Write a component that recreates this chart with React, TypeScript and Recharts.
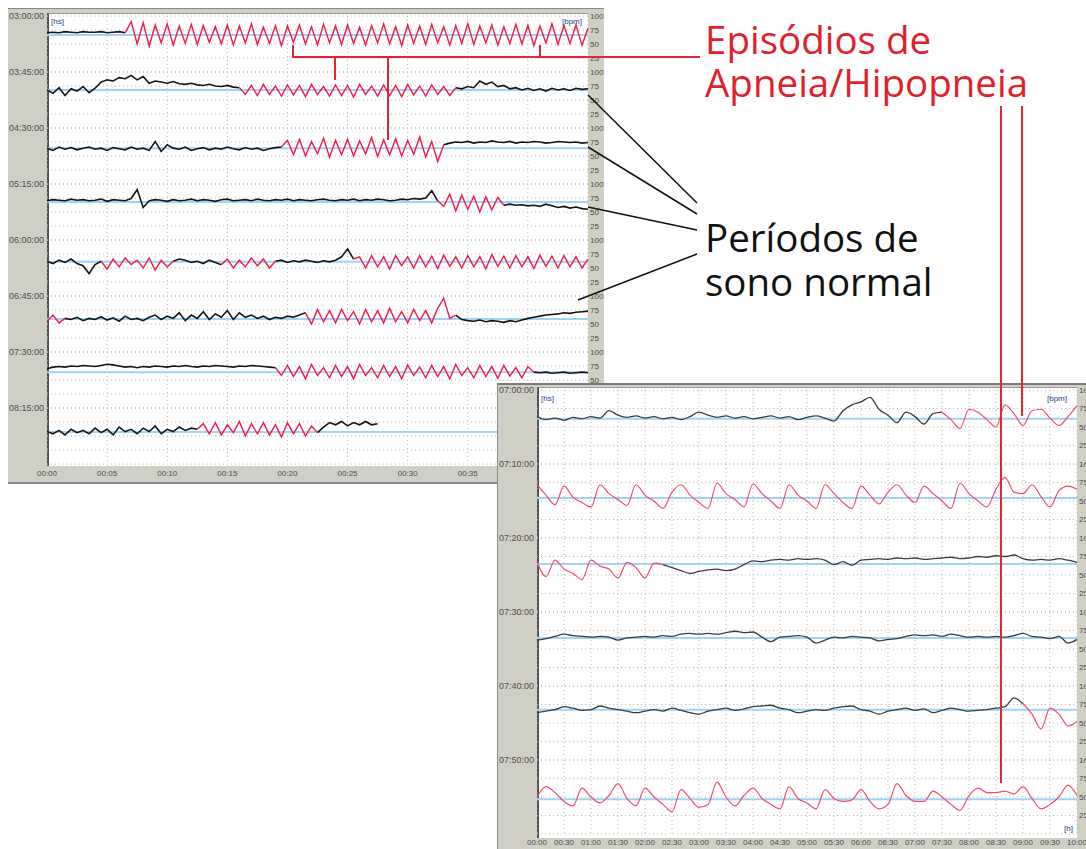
import { LineChart, Line, XAxis, YAxis, CartesianGrid, ReferenceLine } from "recharts";

type Seg = [number, number];

// noite inteira: faixas de 45 min, um valor a cada 30 s (bpm)
const nightRowLabels = ["03:00:00", "03:45:00", "04:30:00", "05:15:00", "06:00:00", "06:45:00", "07:30:00", "08:15:00"];
const nightTicks = [0, 5, 10, 15, 20, 25, 30, 35, 40, 45];
const nightTickLabels = ["00:00", "00:05", "00:10", "00:15", "00:20", "00:25", "00:30", "00:35", "00:40", "00:45"];
const nightMeans = [66, 68, 64, 68, 61, 59, 64, 57];
// trechos em vermelho (min)
const nightApnea: Seg[][] = [
  [[6.5, 45]],
  [[16, 34]],
  [[19.5, 33]],
  [[32.5, 38]],
  [[4.5, 10.5], [14.5, 19], [25.5, 45]],
  [[0, 1.5], [21.5, 34]],
  [[19, 40.5]],
  [[12.5, 22.5]],
];

const hr0300 = [
  70, 71, 70, 72, 71, 70, 72, 71, 71, 72, 70, 71, 72, 70,
  90, 50, 88, 46, 84, 52, 86, 48, 82, 51,
  85, 49, 83, 53, 81, 50, 84, 48, 82, 52,
  86, 49, 80, 51, 83, 47, 82, 53, 84, 50,
  81, 48, 85, 52, 82, 49, 84, 51, 80, 48,
  83, 52, 86, 50, 81, 47, 84, 51, 82, 49,
  85, 52, 81, 48, 83, 51, 86, 49, 82, 52,
  84, 48, 81, 51, 85, 50, 83, 47, 82, 52,
  86, 49, 83, 51, 84, 48, 78,
];
const hr0345 = [
  68, 62, 72, 58, 70, 66, 74, 63, 71, 82,
  86, 84, 90, 88, 94, 86, 92, 80, 84, 82,
  80, 83, 79, 78, 80, 77, 76, 78, 75, 74,
  76, 73, 72,
  60, 76, 58, 78, 60, 75, 57, 77, 59, 76,
  56, 78, 60, 74, 57, 77, 58, 76, 55, 78,
  60, 75, 57, 77, 58, 76, 56, 78, 59, 75,
  57, 77, 60, 74, 58, 72,
  70, 74, 72, 84, 78, 82, 74, 76, 70, 72,
  68, 71, 67, 70, 66, 71, 68, 70, 67, 71,
  69, 70,
];
const hr0430 = [
  64, 60, 66, 62, 65, 61, 64, 66, 62, 64,
  60, 65, 63, 61, 66, 62, 64, 60, 76, 58,
  70, 64, 62, 66, 60, 63, 65, 61, 64, 62,
  66, 63, 61, 65, 62, 64, 60, 63, 65, 66,
  78, 52, 80, 50, 76, 54, 82, 48, 78, 52,
  80, 50, 77, 54, 83, 49, 79, 52, 81, 50,
  78, 53, 84, 48, 76, 40, 70,
  73, 75, 74, 76, 73, 75, 74, 77, 75, 74,
  76, 73, 75, 74, 76, 75, 73, 74, 76, 75,
  74, 75, 73, 74,
];
const hr0515 = [
  70, 72, 71, 70, 73, 71, 72, 70, 71, 73,
  69, 72, 71, 70, 74, 90, 58, 70, 72, 71,
  69, 72, 70, 71, 73, 70, 72, 71, 69, 72,
  73, 70, 71, 72, 70, 73, 71, 70, 72, 71,
  73, 70, 72, 71, 70, 72, 73, 71, 70, 72,
  71, 73, 70, 72, 71, 73, 72, 70, 71, 73,
  72, 74, 73, 75, 88, 70,
  60, 82, 52, 80, 55, 78, 50, 77, 54, 76, 62,
  64, 62, 63, 61, 62, 60, 64, 61, 58, 60, 57, 59, 56, 55,
];
const hr0600 = [
  62, 58, 64, 60, 66, 58, 54, 40, 56, 62,
  48, 66, 52, 68, 56, 64, 50, 68, 46, 64, 52, 62,
  66, 64, 60, 62, 58, 64, 60, 56,
  66, 50, 64, 52, 68, 54, 66, 50, 62,
  64, 60, 63, 61, 64, 62, 60, 63, 61, 64, 70, 84, 66,
  70, 50, 72, 52, 70, 48, 72, 54, 70, 50,
  72, 52, 71, 49, 73, 53, 70, 50, 72, 52,
  70, 48, 74, 53, 71, 50, 72, 52, 70, 49,
  73, 53, 71, 50, 72, 52, 70, 50, 66,
];
const hr0645 = [
  55, 66, 52, 60,
  58, 62, 56, 60, 58, 63, 57, 61, 55, 64,
  58, 60, 56, 62, 66, 58, 64, 60, 70, 56,
  66, 60, 72, 58, 68, 62, 74, 58, 70, 62,
  66, 60, 64, 58, 62, 60, 64, 62, 66, 70,
  50, 76, 54, 74, 52, 76, 56, 72, 50, 76,
  54, 74, 52, 78, 54, 72, 52, 76, 56, 74,
  52, 78, 96, 60, 66,
  58, 56, 55, 57, 54, 56, 55, 53, 56, 54,
  57, 60, 62, 64, 66, 67, 68, 70, 69, 71,
  72, 73,
];
const hr0730 = [
  70, 73, 74, 73, 75, 74, 76, 75, 74, 76,
  78, 77, 75, 73, 74, 72, 74, 73, 75, 74,
  73, 75, 74, 76, 74, 73, 75, 74, 76, 75,
  74, 73, 75, 74, 76, 75, 74, 73, 72,
  58, 76, 56, 74, 52, 78, 58, 72, 54, 76,
  56, 74, 52, 78, 58, 72, 54, 76, 56, 74,
  52, 77, 58, 73, 54, 76, 56, 74, 52, 78,
  58, 72, 54, 76, 56, 74, 53, 76, 57, 72,
  54, 74, 64,
  63, 64, 62, 63, 64, 62, 63, 64, 63,
];
const hr0815 = [
  58, 54, 60, 52, 62, 56, 60, 54, 64, 56,
  62, 52, 66, 58, 62, 54, 64, 58, 68, 54,
  62, 58, 66, 60, 64, 62,
  72, 54, 74, 52, 70, 56, 76, 50, 72, 54,
  74, 52, 70, 48, 74, 54, 72, 50, 68, 56,
  66, 74, 70, 76, 68, 74, 70, 76, 70, 72,
];
const nightSeries = [hr0300, hr0345, hr0430, hr0515, hr0600, hr0645, hr0730, hr0815];

// detalhe 07:00-08:00: faixas de 10 min, um valor a cada 10 s
const zoomRowLabels = ["07:00:00", "07:10:00", "07:20:00", "07:30:00", "07:40:00", "07:50:00"];
const zoomTicks = [0, 30, 60, 90, 120, 150, 180, 210, 240, 270, 300, 330, 360, 390, 420, 450, 480, 510, 540, 570, 600];
const zoomTickLabels = [
  "00:00", "00:30", "01:00", "01:30", "02:00", "02:30", "03:00", "03:30", "04:00", "04:30", "05:00",
  "05:30", "06:00", "06:30", "07:00", "07:30", "08:00", "08:30", "09:00", "09:30", "10:00",
];
const zoomMeans = [61, 54, 65, 65, 68, 47];
// trechos em vermelho (s)
const zoomApnea: Seg[][] = [[[450, 600]], [[0, 600]], [[0, 140]], [], [[540, 600]], [[0, 600]]];

const hr0700 = [
  64, 60, 62, 59, 63, 61, 64, 62, 72, 66,
  63, 65, 62, 64, 61, 63, 60, 64, 70, 66,
  63, 65, 62, 64, 61, 63, 65, 62, 64, 60,
  63, 65, 62, 58, 72, 80, 84, 90, 74, 66,
  56, 70, 64, 54, 68, 70,
  60, 48, 74, 70, 60, 50, 80, 68, 52, 72, 74, 62, 52, 64, 79,
];
const hr0710 = [
  72, 58, 45, 70, 55, 48, 42, 72, 60, 52,
  44, 72, 58, 50, 40, 62, 72, 58, 48, 40,
  74, 60, 52, 42, 73, 60, 50, 40, 72, 58,
  50, 40, 72, 60, 48, 40, 70, 58, 46, 62,
  72, 58, 48, 70, 60, 50, 40, 74, 60, 50,
  42, 66, 82, 62, 60, 72, 56, 42, 64, 70,
  66,
];
const hr0720 = [
  68, 48, 70, 58, 52, 44, 70, 62, 58, 46, 67, 60, 46, 66, 64,
  60, 56, 52, 55, 57, 58, 56, 58, 64, 69,
  68, 70, 71, 70, 72, 71, 72, 70, 64, 68,
  63, 70, 71, 72, 71, 73, 72, 73, 71, 72,
  73, 74, 72, 73, 75, 74, 76, 75, 77, 72,
  70, 71, 70, 72, 70, 67,
];
const hr0730b = [
  62, 64, 67, 70, 68, 67, 66, 67, 66, 62,
  65, 66, 67, 66, 68, 67, 70, 71, 70, 71,
  70, 72, 74, 72, 73, 66, 60, 66, 67, 68,
  66, 58, 62, 66, 65, 67, 66, 65, 61, 63,
  64, 67, 69, 68, 69, 67, 70, 68, 66, 67,
  66, 67, 66, 68, 71, 67, 66, 64, 67, 58,
  63,
];
const hr0740 = [
  64, 66, 68, 72, 70, 67, 68, 73, 70, 68,
  66, 64, 66, 68, 66, 70, 67, 64, 62, 66,
  68, 70, 67, 69, 72, 73, 74, 70, 68, 64,
  66, 68, 67, 70, 72, 73, 68, 66, 62, 66,
  68, 70, 67, 69, 64, 67, 70, 68, 66, 67,
  68, 70, 72, 84, 76,
  62, 42, 70, 62, 46, 52,
];
const hr0750 = [
  50, 64, 56, 44, 38, 62, 50, 42, 52, 68,
  48, 38, 62, 50, 40, 30, 60, 48, 36, 40,
  70, 50, 38, 52, 62, 48, 40, 34, 64, 48,
  42, 34, 60, 48, 44, 46, 60, 44, 34, 40,
  68, 52, 44, 44, 58, 50, 40, 32, 52, 62,
  56, 56, 58, 54, 64, 48, 34, 40, 50, 66,
  52,
];
const zoomSeries = [hr0700, hr0710, hr0720, hr0730b, hr0740, hr0750];

const PANEL_GRAY = "#cfcfc3";
const AXIS_TEXT = "#4d4d4d";
const MEAN_BLUE = "#9fd3f7";

function splitSeries(values: number[], step: number, apnea: Seg[]) {
  return values.map((v, i) => {
    const t = i * step;
    const red = apnea.some(([a, b]) => t >= a && t <= b);
    const inside = apnea.some(([a, b]) => t > a && t < b);
    return { t, hr: v, black: inside ? null : v, red: red ? v : null };
  });
}

interface StripProps {
  values: number[];
  step: number;
  apnea: Seg[];
  mean: number;
  label: string;
  left: number;
  top: number;
  leftW: number;
  plotW: number;
  rightW: number;
  rowH: number;
  xMax: number;
  ticks: number[];
  tickLabels: string[];
  showX: boolean;
  tickGap: number;
  blackColor: string;
  redColor: string;
  lineW: number;
  curve: "linear" | "monotone";
}

function Strip(p: StripProps) {
  const data = splitSeries(p.values, p.step, p.apnea);
  const pad = 8;
  const axisH = p.showX ? 16 : 0;
  return (
    <div style={{ position: "absolute", left: p.left, top: p.top - pad }}>
      <LineChart
        width={p.leftW + p.plotW + p.rightW}
        height={p.rowH + pad * 2 + axisH}
        data={data}
        margin={{ top: pad, right: 0, bottom: pad, left: 0 }}
      >
        <CartesianGrid yAxisId="r" strokeDasharray="1 3" stroke="#b8b8b8" />
        <XAxis
          dataKey="t"
          type="number"
          domain={[0, p.xMax]}
          ticks={p.ticks}
          interval={0}
          hide={!p.showX}
          height={axisH}
          tickLine={false}
          axisLine={false}
          tickSize={0}
          tickMargin={p.tickGap}
          tickFormatter={(_v: number, i: number) => p.tickLabels[i]}
          tick={{ fontSize: 8, fill: AXIS_TEXT }}
        />
        <YAxis
          yAxisId="l"
          dataKey="hr"
          domain={[0, 100]}
          allowDataOverflow
          ticks={[100]}
          interval={0}
          width={p.leftW}
          tickLine={false}
          axisLine={false}
          tickSize={0}
          tickMargin={3}
          tickFormatter={() => p.label}
          tick={{ fontSize: 9, fill: AXIS_TEXT }}
        />
        <YAxis
          yAxisId="r"
          orientation="right"
          domain={[0, 100]}
          allowDataOverflow
          ticks={[25, 50, 75, 100]}
          interval={0}
          width={p.rightW}
          tickLine={false}
          axisLine={false}
          tickSize={0}
          tickMargin={2}
          tick={{ fontSize: 8, fill: AXIS_TEXT }}
        />
        <ReferenceLine yAxisId="r" y={p.mean} stroke={MEAN_BLUE} strokeWidth={2} />
        {/* linha invisível só para o eixo dos horários */}
        <Line yAxisId="l" dataKey="hr" stroke="none" dot={false} activeDot={false} isAnimationActive={false} />
        <Line
          yAxisId="r"
          type={p.curve}
          dataKey="black"
          stroke={p.blackColor}
          strokeWidth={p.lineW}
          dot={false}
          isAnimationActive={false}
        />
        <Line
          yAxisId="r"
          type={p.curve}
          dataKey="red"
          stroke={p.redColor}
          strokeWidth={p.lineW * 0.9}
          dot={false}
          isAnimationActive={false}
        />
      </LineChart>
    </div>
  );
}

const tag: React.CSSProperties = {
  position: "absolute",
  fontSize: 8,
  color: "#23408c",
  lineHeight: "9px",
};

export default function App() {
  const nightRowH = 56;
  const nightTop = 16;
  const zoomRowH = 74;
  const zoomTop = 390;
  return (
    <div
      style={{
        position: "absolute",
        left: 0,
        top: 0,
        width: 1086,
        height: 849,
        overflow: "hidden",
        background: "#ffffff",
        fontFamily: "'Liberation Sans', Arial, sans-serif",
      }}
    >
      {/* painel da noite */}
      <div
        style={{
          position: "absolute",
          left: 8,
          top: 8,
          width: 596,
          height: 476,
          background: PANEL_GRAY,
          borderTop: "1px solid #8a8a8a",
          borderBottom: "2px solid #8a8a8a",
          boxSizing: "border-box",
        }}
      />
      <div
        style={{
          position: "absolute",
          left: 47,
          top: 13,
          width: 541,
          height: 453,
          background: "#fff",
          borderLeft: "2px solid #505050",
          borderTop: "1px solid #9a9a9a",
          boxSizing: "border-box",
        }}
      />
      {nightSeries.map((vals, i) => (
        <Strip
          key={nightRowLabels[i]}
          values={vals}
          step={0.5}
          apnea={nightApnea[i]}
          mean={nightMeans[i]}
          label={nightRowLabels[i]}
          left={8}
          top={nightTop + i * nightRowH}
          leftW={39}
          plotW={541}
          rightW={16}
          rowH={nightRowH}
          xMax={45}
          ticks={nightTicks}
          tickLabels={nightTickLabels}
          showX={i === nightSeries.length - 1}
          tickGap={6}
          blackColor="#151515"
          redColor="#ee1f4a"
          lineW={1.6}
          curve="linear"
        />
      ))}
      <div style={{ ...tag, left: 51, top: 17 }}>[hs]</div>
      <div style={{ ...tag, left: 562, top: 17 }}>[bpm]</div>

      {/* painel de detalhe */}
      <div
        style={{
          position: "absolute",
          left: 497,
          top: 383,
          width: 589,
          height: 466,
          background: PANEL_GRAY,
          borderTop: "2px solid #7a7a7a",
          borderLeft: "1px solid #8a8a8a",
          boxSizing: "border-box",
        }}
      />
      <div
        style={{
          position: "absolute",
          left: 537,
          top: 387,
          width: 540,
          height: 451,
          background: "#fff",
          borderLeft: "2px solid #505050",
          borderTop: "1px solid #9a9a9a",
          boxSizing: "border-box",
        }}
      />
      {zoomSeries.map((vals, i) => (
        <Strip
          key={zoomRowLabels[i]}
          values={vals}
          step={10}
          apnea={zoomApnea[i]}
          mean={zoomMeans[i]}
          label={zoomRowLabels[i]}
          left={497}
          top={zoomTop + i * zoomRowH}
          leftW={40}
          plotW={540}
          rightW={18}
          rowH={zoomRowH}
          xMax={600}
          ticks={zoomTicks}
          tickLabels={zoomTickLabels}
          showX={i === zoomSeries.length - 1}
          tickGap={5}
          blackColor="#3c3c3c"
          redColor="#f24a68"
          lineW={1.3}
          curve="monotone"
        />
      ))}
      <div style={{ ...tag, left: 541, top: 394 }}>[hs]</div>
      <div style={{ ...tag, left: 1047, top: 394 }}>[bpm]</div>
      <div style={{ ...tag, left: 1064, top: 824 }}>[h]</div>

      {/* anotações */}
      <svg width={1086} height={849} style={{ position: "absolute", left: 0, top: 0 }}>
        <g stroke="#e52630" strokeWidth={2} fill="none">
          <polyline points="293,45 293,57 700,57" />
          <line x1={540} y1={45} x2={540} y2={57} />
          <line x1={335} y1={57} x2={335} y2={80} />
          <line x1={388} y1={57} x2={388} y2={140} />
          <line x1={1001} y1={106} x2={1001} y2={783} />
          <line x1={1022} y1={106} x2={1022} y2={416} />
        </g>
        <g stroke="#111" strokeWidth={1.5}>
          <line x1={588} y1={95} x2={697} y2={203} />
          <line x1={588} y1={147} x2={697} y2={214} />
          <line x1={588} y1={207} x2={697} y2={230} />
          <line x1={578} y1={300} x2={697} y2={254} />
        </g>
        <g fontFamily="'Open Sans', sans-serif" fontSize={38.5}>
          <text fill="#e3202a">
            <tspan x={705} y={54}>Episódios de</tspan>
            <tspan x={705} y={97}>Apneia/Hipopneia</tspan>
          </text>
          <text fill="#111">
            <tspan x={705} y={252}>Períodos de</tspan>
            <tspan x={705} y={296}>sono normal</tspan>
          </text>
        </g>
      </svg>
    </div>
  );
}
